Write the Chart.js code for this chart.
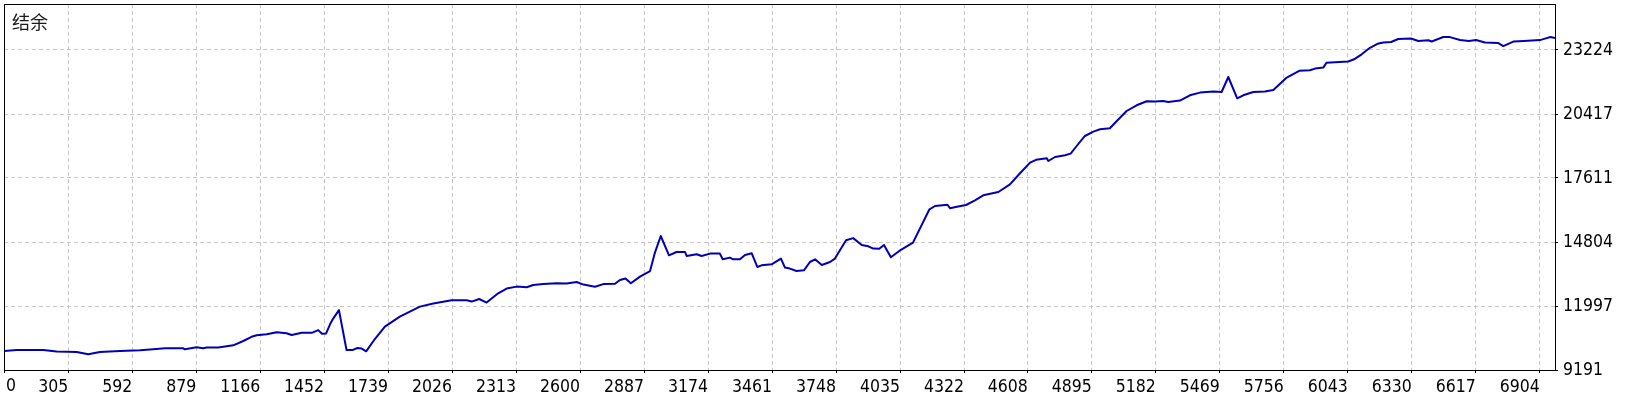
<!DOCTYPE html>
<html><head><meta charset="utf-8">
<script src="https://cdn.jsdelivr.net/npm/chart.js@4.4.1/dist/chart.umd.min.js"></script>
<style>html,body{margin:0;padding:0;background:#fff;overflow:hidden}canvas{display:block}</style>
</head><body>
<canvas id="c" width="1640" height="400"></canvas>
<script>
const chartTitle = '结余';
const tradeIndex = [18,74,193,253,343,395,447,537,627,686,739,821,828,881,910,926,978,1045,1090,1127,1150,1195,1240,1284,1307,1352,1397,1426,1443,1461,1479,1493,1519,1553,1579,1602,1621,1641,1680,1725,1792,1882,1942,2024,2092,2114,2148,2181,2233,2271,2316,2361,2390,2435,2495,2540,2585,2615,2667,2704,2757,2779,2804,2828,2869,2914,2936,2962,2999,3033,3071,3078,3123,3145,3183,3227,3240,3272,3287,3317,3340,3370,3395,3414,3459,3501,3519,3541,3571,3604,3631,3654,3684,3721,3743,3793,3825,3863,3893,3915,3942,3963,3994,4039,4093,4167,4192,4248,4259,4290,4331,4371,4408,4476,4528,4573,4618,4645,4677,4693,4700,4730,4775,4800,4827,4864,4902,4932,4976,5007,5051,5096,5141,5178,5215,5238,5290,5335,5380,5440,5477,5507,5547,5574,5619,5671,5709,5769,5825,5873,5896,5933,5947,6045,6071,6105,6142,6176,6202,6237,6269,6326,6359,6404,6419,6471,6501,6546,6586,6618,6658,6718,6740,6785,6833,6905,6927,6952,6972];
const balance = [10024,10068,10068,9998,9980,9880,9980,10024,10055,10099,10143,10143,10099,10186,10143,10173,10173,10274,10463,10647,10713,10757,10844,10800,10726,10822,10822,10941,10779,10787,11195,11445,11818,10068,10064,10156,10130,10011,10550,11094,11533,11971,12103,12248,12248,12191,12305,12147,12555,12761,12848,12818,12919,12962,12993,12980,13050,12936,12840,12958,12971,13138,13204,12993,13287,13532,14339,15067,14221,14366,14366,14190,14265,14190,14296,14296,14046,14120,14046,14046,14234,14309,13708,13782,13826,14076,13682,13638,13532,13563,13927,14046,13796,13927,14076,14879,14975,14673,14616,14515,14506,14673,14133,14462,14778,16238,16383,16436,16282,16348,16427,16633,16852,16997,17334,17817,18286,18409,18453,18475,18356,18532,18606,18681,19014,19453,19646,19746,19790,20110,20549,20799,20974,20961,20987,20944,21005,21237,21356,21400,21382,22040,21106,21237,21382,21400,21470,22014,22312,22334,22408,22452,22663,22720,22816,23035,23320,23496,23549,23575,23706,23728,23619,23649,23597,23794,23790,23663,23619,23663,23549,23527,23395,23592,23619,23658,23724,23794,23746];
const xTickValues = [17,305,592,879,1166,1452,1739,2026,2313,2600,2887,3174,3461,3748,4035,4322,4608,4895,5182,5469,5756,6043,6330,6617,6904];
const xTickLabels = ['0','305','592','879','1166','1452','1739','2026','2313','2600','2887','3174','3461','3748','4035','4322','4608','4895','5182','5469','5756','6043','6330','6617','6904'];
const yTickValues = [9191,11997,14804,17611,20417,23224];
const yTickLabels = ['9191','11997','14804','17611','20417','23224'];
const xMin = 17, xMax = 6972, yMin = 9191, yMax = 25241;

const tickFont = {family: "'DejaVu Sans Condensed', 'DejaVu Sans', sans-serif", size: 17.5};
const gridColor = '#c8c8c8';

const framePlugin = {
  id: 'frame',
  afterDraw(chart) {
    const {ctx, chartArea: a} = chart;
    ctx.save();
    ctx.strokeStyle = '#000';
    ctx.lineWidth = 1;
    ctx.strokeRect(a.left + 0.5, a.top + 0.5, a.right - a.left, a.bottom - a.top);
    // title
    ctx.fillStyle = '#1a1a1a';
    ctx.font = "18px 'Noto Sans CJK SC', sans-serif";
    ctx.textAlign = 'left';
    ctx.textBaseline = 'alphabetic';
    ctx.fillText(chartTitle, a.left + 8, a.top + 25);
    // first x label, left aligned at the axis start
    const xs = chart.scales.x;
    ctx.font = "17.5px 'DejaVu Sans Condensed', 'DejaVu Sans', sans-serif";
    ctx.fillStyle = '#000';
    ctx.textBaseline = 'top';
    ctx.fillText(xTickLabels[0], xs.getPixelForValue(xTickValues[0]) + 2, a.bottom + 8);
    ctx.restore();
  }
};

new Chart(document.getElementById('c'), {
  type: 'line',
  data: {
    datasets: [{
      data: tradeIndex.map((x, i) => ({x, y: balance[i]})),
      borderColor: '#0000b4',
      borderWidth: 2,
      pointRadius: 0,
      tension: 0,
      borderJoinStyle: 'round',
      fill: false
    }]
  },
  options: {
    responsive: false,
    animation: false,
    events: [],
    layout: {padding: {left: 4, top: 4, right: 0, bottom: 0}},
    plugins: {legend: {display: false}, tooltip: {enabled: false}, title: {display: false}},
    scales: {
      x: {
        type: 'linear',
        position: 'bottom',
        min: xMin, max: xMax,
        afterBuildTicks(s) { s.ticks = xTickValues.map(v => ({value: v})); },
        afterFit(s) { s.height = 30; s.paddingLeft = 0; s.paddingRight = 0; },
        ticks: {
          autoSkip: false, maxRotation: 0, minRotation: 0,
          align: 'end', padding: 4, color: '#000', font: tickFont,
          callback: (v, i) => i === 0 ? '' : xTickLabels[i]
        },
        grid: {color: (c) => c.index === 0 ? 'rgba(0,0,0,0)' : gridColor, lineWidth: 1, tickLength: 3, tickColor: '#000', tickBorderDash: []},
        border: {display: false, dash: [4, 3]}
      },
      y: {
        type: 'linear',
        position: 'right',
        min: yMin, max: yMax,
        afterBuildTicks(s) { s.ticks = yTickValues.map(v => ({value: v})); },
        afterFit(s) { s.width = 85; s.paddingTop = 0; s.paddingBottom = 0; },
        ticks: {
          autoSkip: false, padding: 5, color: '#000', font: tickFont,
          callback: (v, i) => yTickLabels[i]
        },
        grid: {color: gridColor, lineWidth: 1, tickLength: 3, tickColor: '#000', tickBorderDash: []},
        border: {display: false, dash: [4, 3]}
      }
    }
  },
  plugins: [framePlugin]
});
</script>
</body></html>
